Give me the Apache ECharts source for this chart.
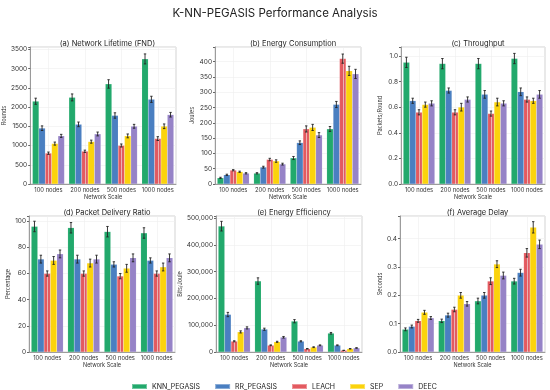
<!DOCTYPE html>
<html><head><meta charset="utf-8">
<script src="https://cdn.jsdelivr.net/npm/echarts@6/dist/echarts.min.js"></script>
<style>html,body{margin:0;padding:0;background:#fff}#c{width:550px;height:390px}</style>
</head><body><div id="c"></div>
<script>
const categories = ['100 nodes', '200 nodes', '500 nodes', '1000 nodes'];
const algorithms = ['KNN_PEGASIS', 'RR_PEGASIS', 'LEACH', 'SEP', 'DEEC'];
const colors = ['#22a96c', '#4a7fc1', '#e35a60', '#fbd30c', '#9683c7'];

// rows: algorithms, columns: categories
const lifetimeVals = [[2150, 2250, 2600, 3250], [1450, 1550, 1780, 2200], [800, 850, 1000, 1180], [1050, 1100, 1250, 1500], [1250, 1300, 1500, 1800]];
const lifetimeErr  = [[80, 90, 110, 130], [60, 60, 70, 80], [30, 30, 40, 50], [40, 40, 50, 60], [40, 50, 50, 60]];
const energyVals = [[20, 35, 85, 180], [30, 55, 135, 260], [45, 80, 180, 410], [40, 75, 185, 370], [35, 65, 160, 360]];
const energyErr  = [[2, 2, 5, 8], [2, 3, 6, 10], [2, 4, 10, 15], [2, 4, 10, 15], [2, 3, 8, 15]];
const throughputVals = [[0.95, 0.94, 0.94, 0.98], [0.65, 0.73, 0.70, 0.72], [0.56, 0.56, 0.55, 0.66], [0.62, 0.60, 0.64, 0.65], [0.63, 0.66, 0.63, 0.70]];
const throughputErr  = [[0.04, 0.04, 0.04, 0.04], [0.02, 0.02, 0.03, 0.03], [0.02, 0.02, 0.02, 0.02], [0.02, 0.03, 0.03, 0.02], [0.02, 0.02, 0.02, 0.03]];
const pdrVals = [[96, 95, 92, 91], [71, 71, 67, 70], [60, 60, 58, 60], [70, 68, 64, 65], [75, 71, 72, 72]];
const pdrErr  = [[4, 4, 4, 4], [3, 3, 2, 2], [2, 2, 2, 2], [3, 3, 3, 3], [3, 3, 3, 3]];
const efficiencyVals = [[470000, 265000, 115000, 70000], [140000, 85000, 40000, 25000], [40000, 25000, 12000, 6000], [75000, 38000, 18000, 12000], [90000, 55000, 25000, 15000]];
const efficiencyErr  = [[18000, 12000, 6000, 3000], [8000, 4000, 2000, 1500], [2000, 1500, 1000, 500], [4000, 2000, 1500, 1000], [4000, 3000, 1500, 1000]];
const delayVals = [[0.08, 0.11, 0.18, 0.25], [0.09, 0.13, 0.20, 0.28], [0.11, 0.15, 0.25, 0.35], [0.14, 0.20, 0.31, 0.44], [0.12, 0.17, 0.27, 0.38]];
const delayErr  = [[0.005, 0.006, 0.01, 0.01], [0.005, 0.007, 0.01, 0.012], [0.005, 0.008, 0.012, 0.015], [0.007, 0.01, 0.012, 0.02], [0.005, 0.008, 0.012, 0.015]];

const panelTitles = ['(a) Network Lifetime (FND)', '(b) Energy Consumption', '(c) Throughput', '(d) Packet Delivery Ratio', '(e) Energy Efficiency', '(f) Average Delay'];
const yNames = ['Rounds', 'Joules', 'Packets/Round', 'Percentage', 'Bits/Joule', 'Seconds'];
const yMax = [3560, 448, 1.07, 104, 508000, 0.48];
const yInterval = [500, 50, 0.2, 20, 100000, 0.1];
const yDecimals = [0, 0, 1, 0, 0, 1];
const yComma = [false, false, false, false, true, false];

const panels = [
  [lifetimeVals, lifetimeErr], [energyVals, energyErr], [throughputVals, throughputErr],
  [pdrVals, pdrErr], [efficiencyVals, efficiencyErr], [delayVals, delayErr]
];
const gridBoxes = [
  {left: 29, top: 47, width: 147, height: 137},
  {left: 215, top: 47, width: 146, height: 137},
  {left: 401, top: 47, width: 144, height: 137},
  {left: 29, top: 216, width: 146, height: 136},
  {left: 216, top: 216, width: 146, height: 136},
  {left: 400, top: 216, width: 145, height: 136}
];
const yNameGaps = [21, 19, 18, 16, 33, 17];

const FONT = 'Inter, "Noto Sans", sans-serif';
const BARW = 0.175;

const grid = [], xAxis = [], yAxis = [], series = [], titles = [];
titles.push({text: 'K-NN-PEGASIS Performance Analysis', left: 'center', top: 3,
  textStyle: {fontFamily: FONT, fontSize: 11.5, fontWeight: 'normal', color: '#222'}});

panels.forEach((p, i) => {
  const g = gridBoxes[i];
  grid.push(Object.assign({show: true, borderColor: '#c8c8c8', borderWidth: 0.8, backgroundColor: '#fff', containLabel: false}, g));
  titles.push({text: panelTitles[i], left: g.left + g.width / 2, top: g.top - 12, textAlign: 'center',
    textStyle: {fontFamily: FONT, fontSize: 7.5, fontWeight: 'normal', color: '#222'}});
  xAxis.push({type: 'category', gridIndex: i, data: categories,
    name: 'Network Scale', nameLocation: 'middle', nameGap: 10,
    nameTextStyle: {fontFamily: FONT, fontSize: 5.5, color: '#333'},
    axisLine: {lineStyle: {color: '#888', width: 0.8}},
    axisTick: {alignWithLabel: true, interval: 0, length: 2, lineStyle: {color: '#666'}},
    axisLabel: {fontFamily: FONT, fontSize: 5.8, color: '#333', margin: 3, interval: 0},
    splitLine: {show: false}});
  const inter = yInterval[i], dec = yDecimals[i], comma = yComma[i];
  yAxis.push({type: 'value', gridIndex: i, min: 0, max: yMax[i], interval: inter,
    name: yNames[i], nameLocation: 'middle', nameGap: yNameGaps[i],
    nameTextStyle: {fontFamily: FONT, fontSize: 5.5, color: '#333'},
    axisLine: {show: true, lineStyle: {color: '#888', width: 0.8}},
    axisTick: {show: true, length: 2, lineStyle: {color: '#666'}},
    axisLabel: {fontFamily: FONT, fontSize: 6.5, color: '#333', margin: 3,
      formatter: v => {
        const r = v / inter;
        if (Math.abs(r - Math.round(r)) > 1e-6) return '';
        let s = v.toFixed(dec);
        if (comma) s = Math.round(v).toLocaleString('en-US');
        return s;
      }},
    splitLine: {show: true, lineStyle: {color: '#eeeeee', width: 0.6}}});
  // faint vertical grid lines at category centres
  series.push({type: 'line', xAxisIndex: i, yAxisIndex: i, data: [], z: 0, silent: true,
    markLine: {silent: true, symbol: 'none', label: {show: false},
      lineStyle: {color: '#eeeeee', width: 0.6, type: 'solid'},
      data: categories.map((c, k) => ({xAxis: k}))}});
  const [vals, errs] = p;
  algorithms.forEach((a, s) => {
    series.push({type: 'bar', name: a, xAxisIndex: i, yAxisIndex: i, data: vals[s],
      barWidth: (BARW * 100) + '%', barGap: '0%',
      itemStyle: {color: colors[s], borderColor: 'rgba(255,255,255,0.35)', borderWidth: 0.3},
      z: 2});
  });
  const errData = [];
  algorithms.forEach((a, s) => {
    categories.forEach((c, k) => errData.push([k, s, vals[s][k], errs[s][k]]));
  });
  series.push({type: 'custom', xAxisIndex: i, yAxisIndex: i, data: errData, z: 5, silent: true,
    encode: {x: 0, y: 2},
    renderItem: (params, api) => {
      const k = api.value(0), s = api.value(1), v = api.value(2), e = api.value(3);
      const bw = api.size([1, 0])[0];
      const x = api.coord([k, v])[0] + (s - 2) * bw * BARW;
      const y1 = api.coord([k, v + e])[1], y2 = api.coord([k, v - e])[1];
      const st = {stroke: '#222', lineWidth: 0.9};
      return {type: 'group', children: [
        {type: 'line', shape: {x1: x, y1: y1, x2: x, y2: y2}, style: st},
        {type: 'line', shape: {x1: x - 1.2, y1: y1, x2: x + 1.2, y2: y1}, style: st},
        {type: 'line', shape: {x1: x - 1.2, y1: y2, x2: x + 1.2, y2: y2}, style: st}
      ]};
    }});
});

const chart = echarts.init(document.getElementById('c'), null, {renderer: 'canvas'});
chart.setOption({
  animation: false,
  backgroundColor: '#fff',
  title: titles,
  legend: {data: algorithms.map((a, s) => ({name: a, itemStyle: {color: colors[s]}})),
    left: 126, top: 378, icon: 'rect', itemWidth: 15, itemHeight: 5, itemGap: 14,
    textStyle: {fontFamily: FONT, fontSize: 7, color: '#222'}},
  grid, xAxis, yAxis, series
});
</script></body></html>
